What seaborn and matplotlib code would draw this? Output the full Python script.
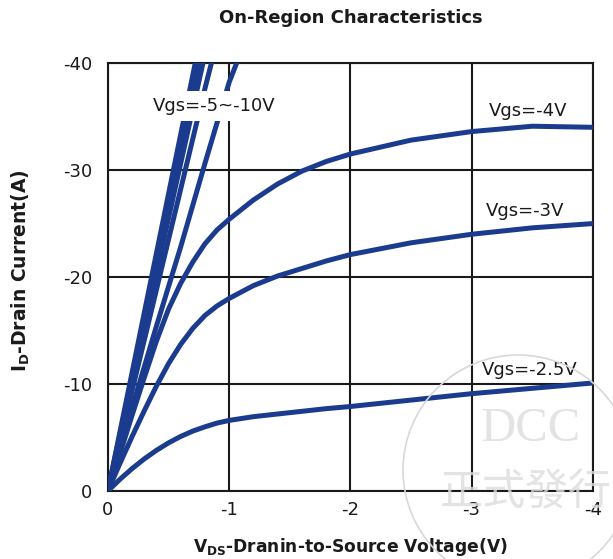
import pandas as pd
import numpy as np
import seaborn as sns
import matplotlib.pyplot as plt
from matplotlib.patches import Circle

# drain voltage points (V) for the low Vgs curves
vds = [0, -0.1, -0.2, -0.3, -0.4, -0.5, -0.6, -0.7, -0.8, -0.9, -1.0,
       -1.2, -1.4, -1.6, -1.8, -2.0, -2.5, -3.0, -3.5, -4.0]
id_25 = [0, -1.1, -2.1, -3.0, -3.8, -4.5, -5.1, -5.6, -6.0, -6.35, -6.6,
         -6.95, -7.2, -7.45, -7.7, -7.9, -8.5, -9.1, -9.6, -10.1]
id_3 = [0, -2.6, -5.1, -7.5, -9.8, -11.9, -13.7, -15.2, -16.4, -17.3, -18.0,
        -19.2, -20.1, -20.8, -21.5, -22.1, -23.2, -24.0, -24.6, -25.0]
id_4 = [0, -3.5, -7.1, -10.6, -14.0, -17.0, -19.4, -21.4, -23.1, -24.4, -25.4,
        -27.2, -28.7, -29.9, -30.8, -31.5, -32.8, -33.6, -34.1, -34.0]

# steep curves Vgs=-5..-10, they leave the plot near -1V
vds_hi = [0, -0.2, -0.4, -0.6, -0.8, -1.0, -1.2]
id_5 = [0, -7.8, -15.4, -22.8, -30.6, -38.2, -44.0]
id_6 = [0, -9.4, -18.8, -28.2, -37.6, -46.5, -55.0]
id_7 = [0, -10.2, -20.4, -30.6, -40.8, -51.0, -61.0]
id_8 = [0, -10.7, -21.4, -32.1, -42.8, -53.5, -64.0]
id_10 = [0, -11.1, -22.2, -33.3, -44.4, -55.5, -66.6]

curves = {
    '-2.5': (vds, id_25), '-3': (vds, id_3), '-4': (vds, id_4),
    '-5': (vds_hi, id_5), '-6': (vds_hi, id_6), '-7': (vds_hi, id_7),
    '-8': (vds_hi, id_8), '-10': (vds_hi, id_10),
}
df = pd.concat([pd.DataFrame({'Vds': v, 'Id': i, 'Vgs': k}) for k, (v, i) in curves.items()])

sns.set_style("white")
plt.rcParams['font.family'] = ['DejaVu Sans', 'Noto Sans CJK TC']
plt.rcParams['axes.unicode_minus'] = False

blue = '#1b3c8e'
fig = plt.figure(figsize=(6.13, 5.59), dpi=100)
ax = fig.add_axes([0.176, 0.1216, 0.791, 0.7655])

sns.lineplot(data=df, x='Vds', y='Id', units='Vgs', estimator=None, sort=False,
             color=blue, linewidth=3.6, ax=ax, zorder=3)

ax.set_xlim(0, -4)
ax.set_ylim(0, -40)
ax.set_xticks([0, -1, -2, -3, -4])
ax.set_yticks([0, -10, -20, -30, -40])
ax.grid(True, color='#1a1a1a', linewidth=1.5)
ax.set_axisbelow(True)
for s in ax.spines.values():
    s.set_color('#1a1a1a')
    s.set_linewidth(1.5)
ax.tick_params(axis='both', length=0, labelsize=13, colors='#1a1a1a')
ax.tick_params(axis='x', pad=7)
ax.tick_params(axis='y', pad=11)

ax.set_xlabel(r'V$_{\mathbf{DS}}$-Dranin-to-Source Voltage(V)', fontsize=12.3, fontweight='bold', color='#1a1a1a')
ax.xaxis.label.set_va('center')
ax.xaxis.set_label_coords(0.5, -0.131)
ax.set_ylabel(r'I$_{\mathbf{D}}$-Drain Current(A)', fontsize=13.5, fontweight='bold', color='#1a1a1a')
ax.yaxis.label.set_va('center')
ax.yaxis.set_label_coords(-0.179, 0.516)
fig.text(0.572, 0.967, 'On-Region Characteristics', ha='center', va='center',
         fontsize=13, fontweight='bold', color='#1a1a1a')

ax.text(-3.47, -35.5, 'Vgs=-4V', ha='center', va='center', fontsize=13, color='#1a1a1a', zorder=5)
ax.text(-3.44, -26.2, 'Vgs=-3V', ha='center', va='center', fontsize=13, color='#1a1a1a', zorder=5)
ax.text(-3.48, -11.3, 'Vgs=-2.5V', ha='center', va='center', fontsize=13, color='#1a1a1a', zorder=5)
ax.text(-0.874, -36.0, 'Vgs=-5~-10V', ha='center', va='center', fontsize=13, color='#1a1a1a', zorder=5,
        bbox=dict(boxstyle='square,pad=0.35', fc='white', ec='none'))

# faint stamp watermark
fig.add_artist(Circle((5.18, 0.89), 1.15, transform=fig.dpi_scale_trans, fill=False,
                      ec='#d8d8d8', lw=1.2, zorder=10))
fig.text(0.865, 0.233, 'DCC', ha='center', va='center', fontsize=35, family='Liberation Serif',
         color='#dcdcdc', alpha=0.8, zorder=10)
fig.text(0.858, 0.118, '正式發行', ha='center', va='center', fontsize=31,
         family=['Noto Sans CJK TC'], color='#dcdcdc', alpha=0.8, zorder=10)

plt.savefig('out.png', dpi=100)
